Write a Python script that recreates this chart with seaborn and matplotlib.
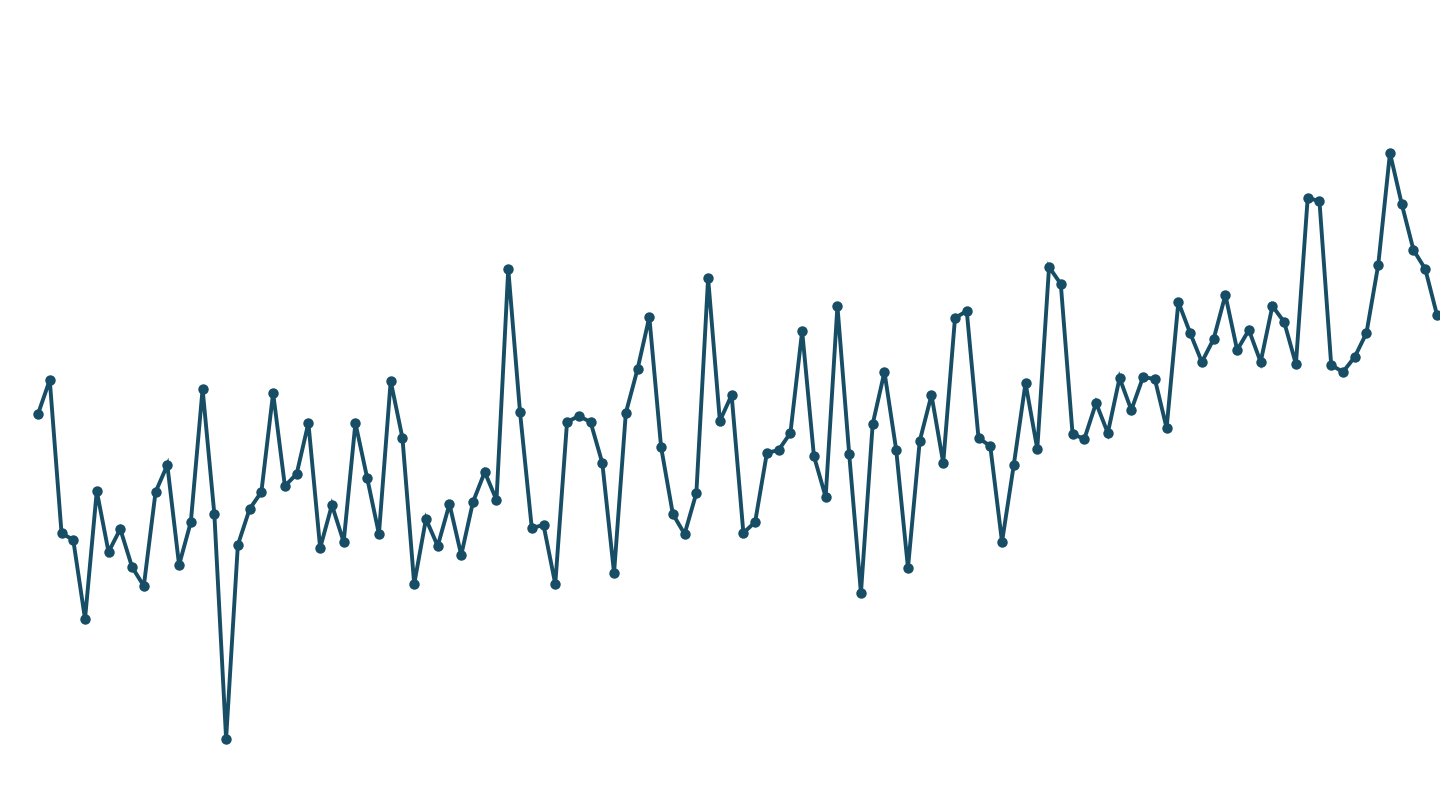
import numpy as np
import pandas as pd
import matplotlib
matplotlib.use("Agg")
import matplotlib.pyplot as plt
import seaborn as sns

# series values (arbitrary units, higher = up)
values = [
    396, 430, 277, 270, 191, 319, 258, 281, 243, 224,
    318, 345, 245, 288, 421, 296, 71, 265, 301, 318,
    417, 324, 336, 387, 262, 305, 268, 387, 332, 276,
    429, 372, 226, 291, 264, 306, 255, 308, 338, 310,
    541, 398, 282, 285, 226, 388, 394, 388, 347, 237,
    397, 441, 493, 363, 296, 276, 317, 532, 389, 415,
    277, 288, 357, 360, 377, 479, 354, 313, 504, 356,
    217, 386, 438, 360, 242, 369, 415, 347, 492, 499,
    372, 364, 268, 345, 427, 361, 543, 526, 376, 371,
    407, 377, 432, 400, 433, 431, 382, 508, 477, 448,
    471, 515, 460, 480, 448, 504, 488, 446, 612, 609,
    445, 438, 453, 477, 545, 657, 606, 560, 541, 495,
]
index = list(range(len(values)))

sns.set_theme(style="white")
plt.rcParams["lines.solid_joinstyle"] = "miter"

fig = plt.figure(figsize=(14.4, 8.1), dpi=100)
ax = fig.add_axes([0, 0, 1, 1])

df = pd.DataFrame({"idx": index, "value": values})
sns.lineplot(data=df, x="idx", y="value", ax=ax, color="#174e66",
             linewidth=2.8, marker="o", markersize=7.5,
             markeredgewidth=0)

n = len(values)
step = (1437 - 38) / (n - 1)
ax.set_xlim(-38 / step, (n - 1) + 3 / step)
ax.set_ylim(0, 810)
ax.axis("off")

fig.savefig("out.png", dpi=100)
